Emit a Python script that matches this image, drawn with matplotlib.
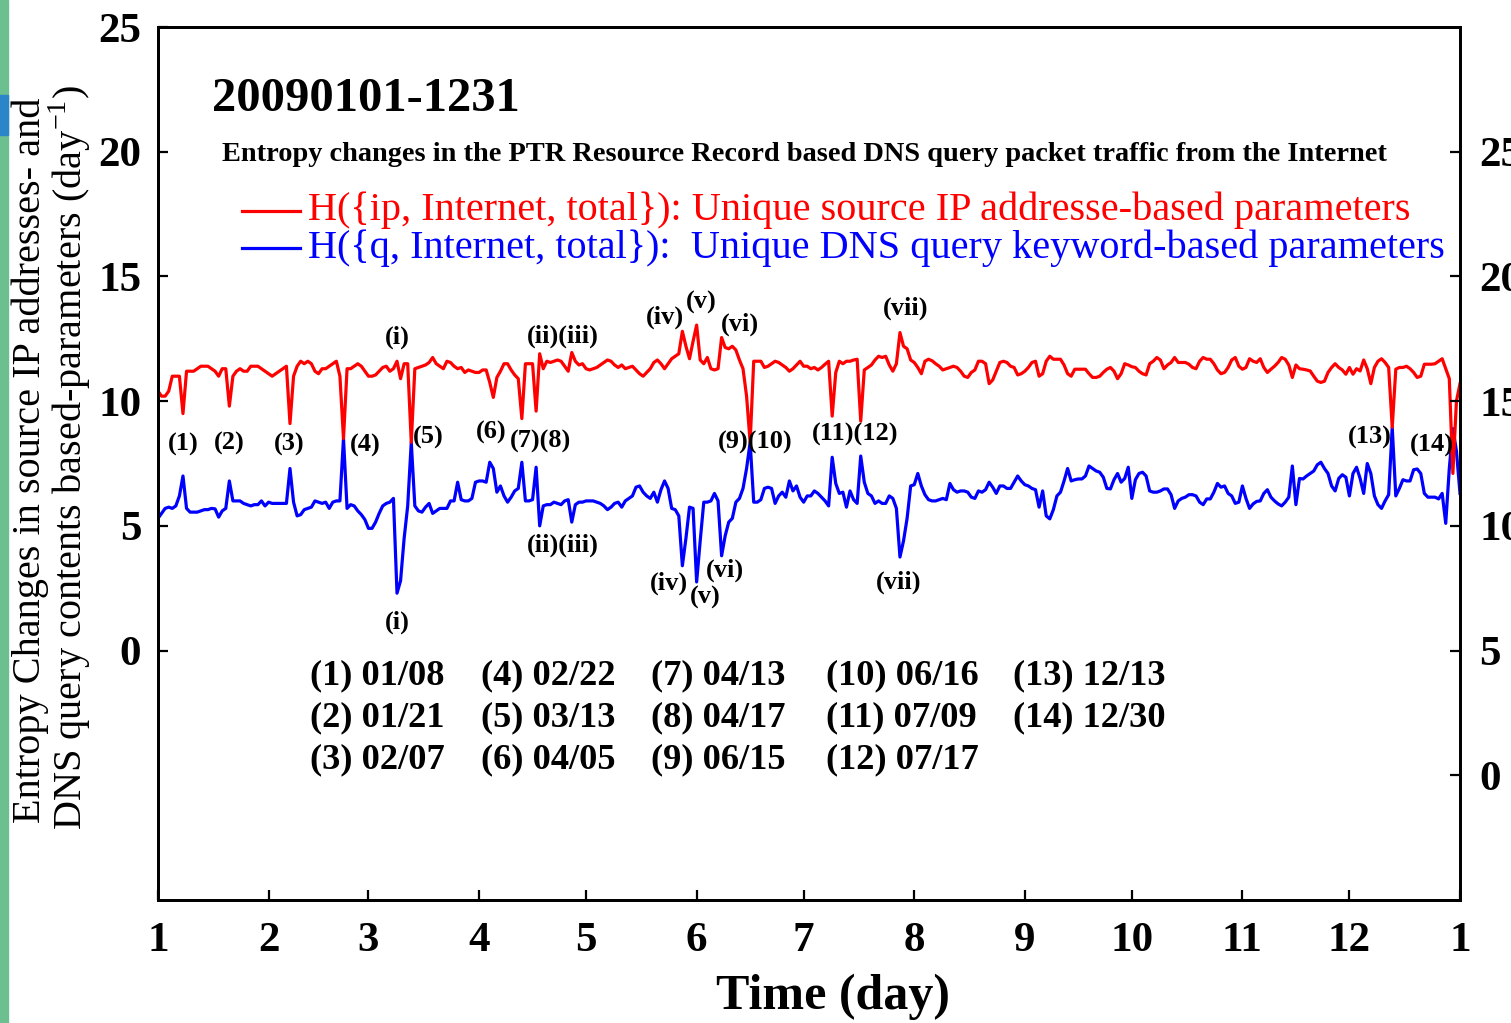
import numpy as np
import matplotlib
matplotlib.use("Agg")
import matplotlib.pyplot as plt
from matplotlib.lines import Line2D
from matplotlib.patches import Rectangle

plt.rcParams['font.family'] = ['Liberation Serif', 'DejaVu Serif']
plt.rcParams['mathtext.fontset'] = 'custom'
plt.rcParams['mathtext.rm'] = 'Liberation Serif'

# ---- data: daily entropy changes over 2009 (day-of-year index) ----
h_ip = [
    10.4, 10.2, 10.2, 10.4, 11.0, 11.0, 11.0, 9.5, 11.2, 11.2,
    11.2, 11.3, 11.4, 11.4, 11.4, 11.3, 11.2, 11.0, 11.3, 11.3,
    9.8, 11.0, 11.2, 11.3, 11.2, 11.2, 11.4, 11.4, 11.4, 11.3,
    11.2, 11.1, 11.0, 11.1, 11.2, 11.3, 11.4, 9.1, 11.0, 11.4,
    11.6, 11.5, 11.6, 11.5, 11.2, 11.1, 11.3, 11.3, 11.4, 11.5,
    11.6, 11.0, 8.5, 11.3, 11.3, 11.4, 11.5, 11.4, 11.2, 11.0,
    11.0, 11.05, 11.2, 11.35, 11.4, 11.2, 11.3, 11.6, 10.9, 11.5,
    11.5, 8.35, 11.3, 11.35, 11.4, 11.45, 11.55, 11.75, 11.5, 11.4,
    11.3, 11.6, 11.55, 11.4, 11.3, 11.35, 11.15, 11.25, 11.2, 11.15,
    11.15, 11.25, 11.25, 10.75, 10.15, 10.95, 11.2, 11.5, 11.5, 11.25,
    11.05, 10.9, 9.3, 11.5, 11.5, 11.5, 9.6, 11.9, 11.3, 11.6,
    11.55, 11.6, 11.65, 11.6, 11.4, 11.2, 11.95, 11.6, 11.45, 11.5,
    11.3, 11.25, 11.3, 11.35, 11.45, 11.55, 11.65, 11.6, 11.45, 11.35,
    11.45, 11.3, 11.35, 11.4, 11.25, 11.1, 11.0, 11.15, 11.3, 11.55,
    11.65, 11.5, 11.3, 11.5, 11.7, 11.8, 11.9, 12.8, 12.2, 11.7,
    12.4, 13.05, 11.65, 11.5, 11.75, 11.3, 11.25, 11.3, 12.55, 12.15,
    12.1, 12.2, 12.05, 11.65, 11.3, 10.2, 8.35, 11.6, 11.6, 11.6,
    11.35, 11.4, 11.5, 11.6, 11.55, 11.45, 11.35, 11.2, 11.3, 11.45,
    11.6, 11.4, 11.4, 11.3, 11.35, 11.25, 11.35, 11.48, 11.6, 9.4,
    11.15, 11.6, 11.5, 11.6, 11.6, 11.65, 11.68, 9.2, 11.25, 11.35,
    11.45, 11.65, 11.8, 11.75, 11.8, 11.45, 11.2, 11.5, 12.75, 12.2,
    12.1, 11.65, 11.55, 11.35, 11.1, 11.6, 11.68, 11.62, 11.5, 11.4,
    11.25, 11.3, 11.35, 11.4, 11.35, 11.2, 11.0, 10.95, 11.15, 11.25,
    11.6, 11.6, 11.5, 10.7, 10.85, 11.2, 11.55, 11.6, 11.55, 11.4,
    11.35, 11.05, 11.1, 11.2, 11.35, 11.55, 11.6, 11.0, 11.1, 11.6,
    11.8, 11.68, 11.68, 11.68, 11.45, 11.1, 11.0, 11.28, 11.28, 11.28,
    11.28, 11.1, 10.95, 10.95, 11.0, 11.15, 11.28, 11.35, 11.2, 10.9,
    11.1, 11.5, 11.45, 11.38, 11.35, 11.2, 11.1, 11.05, 11.5, 11.6,
    11.75, 11.65, 11.3, 11.45, 11.55, 11.75, 11.55, 11.55, 11.55, 11.48,
    11.35, 11.3, 11.6, 11.75, 11.68, 11.68, 11.5, 11.25, 11.1, 11.15,
    11.35, 11.65, 11.75, 11.4, 11.28, 11.35, 11.7, 11.6, 11.55, 11.7,
    11.35, 11.15, 11.28, 11.4, 11.55, 11.75, 11.68, 11.45, 10.95, 11.45,
    11.3, 11.28, 11.25, 11.21, 11.0, 10.8, 10.75, 10.8, 11.15, 11.35,
    11.5, 11.35, 11.25, 11.08, 11.35, 11.08, 11.3, 11.21, 11.65, 11.3,
    10.7, 11.35, 11.6, 11.7, 11.55, 11.35, 8.95, 11.28, 11.35, 11.35,
    11.4, 11.3, 11.15, 10.95, 11.0, 11.48, 11.48, 11.48, 11.5, 11.6,
    11.7, 11.3, 10.9, 7.1, 10.0, 10.7,
]

h_q = [
    5.3, 5.5, 5.7, 5.75, 5.7, 5.8, 6.2, 7.0, 5.7, 5.55,
    5.55, 5.55, 5.6, 5.65, 5.65, 5.7, 5.68, 5.35, 5.6, 5.7,
    6.8, 6.0, 6.0, 6.0, 5.9, 5.85, 5.8, 5.85, 5.85, 6.0,
    5.8, 5.95, 5.9, 5.9, 5.9, 5.9, 5.9, 7.3, 5.95, 5.4,
    5.45, 5.65, 5.7, 5.75, 6.0, 5.95, 5.9, 5.95, 5.7, 5.95,
    6.0, 6.0, 8.5, 5.7, 5.85, 5.8, 5.6, 5.45, 5.25, 4.9,
    4.9, 5.15, 5.5, 5.8, 5.9, 5.95, 6.1, 2.3, 2.8, 4.5,
    5.8, 8.35, 5.8, 5.6, 5.55, 5.75, 5.9, 5.5, 5.6, 5.7,
    5.7, 5.7, 6.0, 6.0, 6.75, 6.05, 6.0, 6.0, 6.1, 6.75,
    6.8, 6.8, 6.75, 7.55, 7.3, 6.35, 6.6, 6.2, 5.95, 6.15,
    6.4, 6.5, 7.55, 6.0, 6.0, 6.05, 7.35, 5.0, 5.8, 5.85,
    5.85, 5.95, 5.9, 5.85, 6.0, 6.05, 5.15, 5.85, 5.95, 5.95,
    6.0, 6.0, 6.0, 5.95, 5.9, 5.8, 5.65, 5.75, 5.9, 5.95,
    5.75, 6.0, 6.1, 6.2, 6.55, 6.6, 6.35, 6.2, 6.1, 6.35,
    5.95, 6.45, 6.8, 6.5, 5.7, 5.65, 5.4, 3.4, 4.5, 5.75,
    5.7, 2.75, 4.4, 5.95, 5.95, 6.0, 6.3, 6.0, 3.8, 4.6,
    5.15, 5.3, 5.95, 6.1, 6.5, 7.3, 8.35, 5.95, 5.95, 6.05,
    6.5, 6.55, 6.5, 5.9, 6.2, 6.35, 6.15, 6.8, 6.4, 6.6,
    6.15, 5.95, 6.2, 6.2, 6.4, 6.3, 6.15, 6.0, 5.8, 7.75,
    6.7, 6.3, 6.35, 5.75, 6.4, 6.05, 5.9, 7.8, 6.75, 6.3,
    6.2, 5.9, 6.0, 5.9, 5.9, 6.2, 6.1, 5.7, 3.75, 4.4,
    5.3, 6.6, 6.65, 7.1, 6.6, 6.25, 6.05, 6.0, 6.0, 6.05,
    6.1, 6.05, 6.7, 6.45, 6.35, 6.4, 6.4, 6.35, 6.15, 6.1,
    6.4, 6.35, 6.45, 6.75, 6.55, 6.3, 6.6, 6.6, 6.5, 6.5,
    6.75, 7.0, 6.8, 6.65, 6.6, 6.5, 6.45, 5.75, 6.4, 5.4,
    5.28, 5.65, 6.2, 6.35, 6.8, 7.3, 6.8, 6.85, 6.88, 6.88,
    7.0, 7.4, 7.3, 7.2, 7.15, 6.95, 6.5, 6.48, 6.85, 7.1,
    6.75, 6.9, 7.35, 6.1, 6.85, 7.1, 7.15, 7.0, 6.4, 6.35,
    6.35, 6.4, 6.48, 6.48, 6.25, 5.7, 6.0, 6.1, 6.15, 6.25,
    6.25, 6.2, 5.95, 5.85, 6.08, 6.08, 6.35, 6.7, 6.55, 6.6,
    6.3, 6.2, 5.9, 5.95, 6.6, 6.1, 5.7, 5.88, 5.98, 6.0,
    6.3, 6.45, 6.15, 6.0, 5.88, 5.8, 5.95, 6.15, 7.4, 5.85,
    6.9, 6.88, 7.0, 7.1, 7.2, 7.45, 7.55, 7.3, 7.1, 6.6,
    6.4, 6.9, 7.05, 6.95, 6.2, 7.1, 7.35, 6.9, 6.3, 7.5,
    7.1, 6.2, 5.85, 5.7, 6.0, 6.25, 8.95, 6.2, 6.5, 6.85,
    6.8, 6.8, 7.25, 7.28, 7.1, 6.3, 6.15, 6.15, 6.15, 6.08,
    6.3, 5.1, 7.3, 8.9, 8.0, 6.3,
]

month_starts = [0, 31, 59, 90, 120, 151, 181, 212, 243, 273, 304, 334, 365]
month_labels = ['1', '2', '3', '4', '5', '6', '7', '8', '9', '10', '11', '12', '1']
left_ticks = [0, 5, 10, 15, 20, 25]

event_dates = ['01/08', '01/21', '02/07', '02/22', '03/13', '04/05', '04/13',
               '04/17', '06/15', '06/16', '07/09', '07/17', '12/13', '12/30']

days = np.arange(len(h_ip))

fig = plt.figure(figsize=(15.11, 10.23), dpi=100)
ax = fig.add_axes([158 / 1511, 123 / 1023, 1302 / 1511, 873 / 1023])

ax.plot(days, h_q, color='#0000ff', lw=2.3, zorder=3)
ax.plot(days, h_ip, color='#ff0000', lw=2.3, zorder=3)

ax.set_xlim(0, 365)
ax.set_ylim(-10, 25)
ax.set_xticks(month_starts)
ax.set_xticklabels(month_labels)
ax.set_yticks(left_ticks)
ax.set_yticklabels([str(t) for t in left_ticks])
ax.tick_params(axis='both', direction='in', length=7, width=1.6,
               labelsize=31)
ax.tick_params(axis='x', pad=16)
ax.tick_params(axis='y', pad=12)
for lab in ax.get_xticklabels() + ax.get_yticklabels():
    lab.set_fontweight('bold')
for sp in ax.spines.values():
    sp.set_linewidth(2.0)

# secondary scale on the right (shifted by 5)
ax2 = ax.twinx()
ax2.set_ylim(-5, 30)
ax2.set_yticks(left_ticks)
ax2.set_yticklabels([str(t) for t in left_ticks])
ax2.tick_params(axis='y', direction='in', length=7, width=1.6,
                labelsize=31, pad=14)
for lab in ax2.get_yticklabels():
    lab.set_fontweight('bold')
for sp in ax2.spines.values():
    sp.set_linewidth(2.0)

# headings
ax.text(15.1, 22.1, '20090101-1231', fontsize=35, fontweight='bold',
        ha='left', va='center')
ax.text(17.9, 19.88,
        'Entropy changes in the PTR Resource Record based DNS query packet traffic from the Internet',
        fontsize=20.4, fontweight='bold', ha='left', va='center')

# legend entries
ax.add_line(Line2D([23.5, 39.8], [17.64, 17.64], color='#ff0000', lw=2.3))
ax.add_line(Line2D([23.5, 39.8], [16.12, 16.12], color='#0000ff', lw=2.3))
ax.text(42.0, 17.64,
        'H({ip, Internet, total}): Unique source IP addresse-based parameters',
        color='#ff0000', fontsize=29, ha='left', va='center')
ax.text(42.0, 16.12,
        'H({q, Internet, total}):  Unique DNS query keyword-based parameters',
        color='#0000ff', fontsize=29, ha='left', va='center')

# event markers
markers = [
    ('(1)', 7.0, 8.28), ('(2)', 19.9, 8.32), ('(3)', 36.7, 8.28),
    ('(4)', 58.0, 8.24), ('(5)', 75.7, 8.56), ('(6)', 93.4, 8.76),
    ('(7)(8)', 107.3, 8.4), ('(9)(10)', 167.4, 8.36),
    ('(11)(12)', 195.4, 8.68), ('(13)', 339.8, 8.56), ('(14)', 357.2, 8.24),
    ('(i)', 67.0, 12.56), ('(ii)(iii)', 113.5, 12.6), ('(iv)', 142.1, 13.36),
    ('(v)', 152.2, 13.96), ('(vi)', 163.2, 13.08), ('(vii)', 209.7, 13.72),
    ('(i)', 67.0, 1.12), ('(ii)(iii)', 113.5, 4.24), ('(iv)', 143.3, 2.68),
    ('(v)', 153.4, 2.12), ('(vi)', 159.0, 3.2), ('(vii)', 207.7, 2.72),
]
for txt, x, y in markers:
    ax.text(x, y, txt, fontsize=19, fontweight='bold', ha='center',
            va='center', zorder=4)

# date table
col_x = [42.6, 90.6, 138.2, 187.3, 239.7]
row_y = [-1.0, -2.68, -4.4]
for i, d in enumerate(event_dates):
    c, r = divmod(i, 3)
    ax.text(col_x[c], row_y[r], f'({i + 1}) {d}', fontsize=26.2,
            fontweight='bold', ha='left', va='center')

# axis titles
fig.text(833 / 1511, 1 - 997 / 1023, 'Time (day)', fontsize=36,
         fontweight='bold', ha='center', va='center')
fig.text(30 / 1511, 1 - 460 / 1023,
         'Entropy Changes in source IP addresses- and',
         fontsize=29, rotation=90, ha='center', va='center')
fig.text(70 / 1511, 1 - 458 / 1023,
         r'DNS query contents based-parameters (day$^{\mathrm{-1}}$)',
         fontsize=29, rotation=90, ha='center', va='center')

# left border strip
fig.add_artist(Rectangle((0, 0), 8 / 1511, 1, transform=fig.transFigure,
                         color='#6cbf8e', zorder=0))
fig.add_artist(Rectangle((0, 1 - 135 / 1023), 8 / 1511, 40 / 1023,
                         transform=fig.transFigure, color='#2a86c8',
                         zorder=0))

fig.savefig('out.png', dpi=100)
